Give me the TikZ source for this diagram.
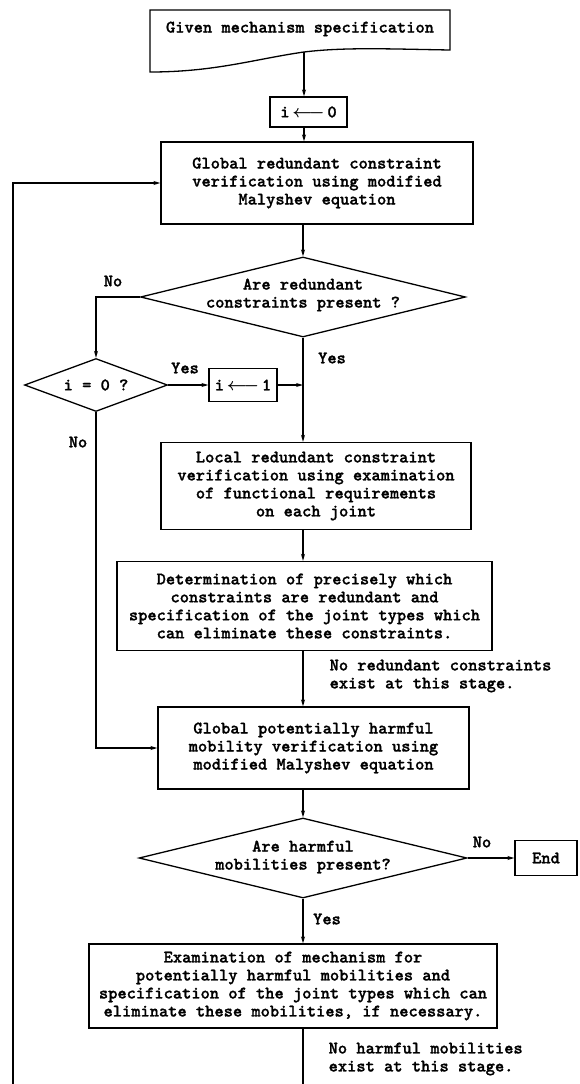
\documentclass[tikz,border=0pt]{standalone}
\usepackage{fontspec}
\newfontfamily\flowfont[FakeBold=1.2]{lmmonolt10-bold.otf}
\usetikzlibrary{arrows.meta,shapes.geometric}
\begin{document}
\begin{tikzpicture}[x=1pt,y=-1pt,line width=1.3pt,
    font=\flowfont\fontsize{17.6}{18}\selectfont,
    blk/.style={draw,align=center,inner sep=0pt},
    dec/.style={draw,diamond,inner sep=0pt},
    lbl/.style={inner sep=0pt,align=left},
    arr/.style={-{Stealth[length=7pt,width=4pt]}}]
    \useasboundingbox (0,0) rectangle (579,1084);
    \clip (0,0) rectangle (579,1084);

    % Start document symbol
    \draw (150,10) -- (450,10) -- (450,50)
        .. controls (390,49) and (345,47) .. (304,52)
        .. controls (255,59) and (215,72) .. (150,72) -- cycle;
    \node (given) at (300,29) {Given mechanism specification};
    \coordinate (givenb) at (304,52);

    % Process boxes
    \node[blk,minimum width=77pt,minimum height=30pt] (izero) at (308.5,112) {i\,{\boldmath$\longleftarrow$}\,0};
    \node[blk,minimum width=312pt,minimum height=82pt] (glob) at (317,183)
        {Global redundant constraint\\verification using modified\\Malyshev equation};
    \node[blk,minimum width=68pt,minimum height=33pt] (ione) at (243,385) {i\,{\boldmath$\longleftarrow$}\,1};
    \node[blk,minimum width=310pt,minimum height=87pt] (local) at (316,486)
        {Local redundant constraint\\verification using examination\\of functional requirements\\on each joint};
    \node[blk,minimum width=375pt,minimum height=89pt] (det) at (304.5,606)
        {Determination of precisely which\\constraints are redundant and\\specification of the joint types which\\can eliminate these constraints.};
    \node[blk,minimum width=311pt,minimum height=82pt] (gpot) at (313.5,748)
        {Global potentially harmful\\mobility verification using\\modified Malyshev equation};
    \node[blk,minimum width=62pt,minimum height=35pt] (fin) at (546,858) {End};
    \node[blk,minimum width=408pt,minimum height=84pt] (exam) at (293,986)
        {Examination of mechanism for\\potentially harmful mobilities and\\specification of the joint types which can\\eliminate these mobilities, if necessary.};

    % Decisions
    \node[dec,minimum width=325pt,minimum height=80pt] (red) at (303,297) {};
    \node[align=center] (redtxt) at (303,295) {Are redundant\\constraints present ?};
    \node[dec,minimum width=143pt,minimum height=53pt] (first) at (96,385) {};
    \node (firsttxt) at (first) {i = 0 ?};
    \node[dec,minimum width=328pt,minimum height=80pt] (harm) at (303,858) {};
    \node[align=center] (harmtxt) at (303,857) {Are harmful\\mobilities present?};

    % Labels
    \node (no1) at (113,281) {No};
    \node (yes1) at (332,358) {Yes};
    \node (yes2) at (185,368) {Yes};
    \node (no2) at (78,442) {No};
    \node[lbl,anchor=west] (norc) at (329,676) {No redundant constraints\\exist at this stage.};
    \node (no3) at (482,842) {No};
    \node (yes3) at (327,919) {Yes};
    \node[lbl,anchor=west] (nohm) at (328,1059) {No harmful mobilities\\exist at this stage.};

    % Connectors
    \coordinate (join) at (red.south |- ione.east);
    \coordinate (back) at (13,1110);
    \draw[arr] (givenb) -- (givenb |- izero.north);
    \draw[arr] (givenb |- izero.south) -- (givenb |- glob.north);
    \draw[arr] (red.north |- glob.south) -- (red.north);
    \draw[arr] (red.west) -| (first.north);
    \draw[arr] (first.east) -- (ione.west);
    \draw[arr] (ione.east) -- (join);
    \draw[arr] (red.south) -- (red.south |- local.north);
    \draw[arr] (red.south |- local.south) -- (red.south |- det.north);
    \draw[arr] (red.south |- det.south) -- (red.south |- gpot.north);
    \draw[arr] (first.south) |- (gpot.west);
    \draw[arr] (harm.north |- gpot.south) -- (harm.north);
    \draw[arr] (harm.east) -- (fin.west);
    \draw[arr] (harm.south) -- (harm.south |- exam.north);
    \draw[arr] (harm.south |- exam.south) -- (harm.south |- back) -- (back) |- (glob.west);
\end{tikzpicture}
\end{document}
